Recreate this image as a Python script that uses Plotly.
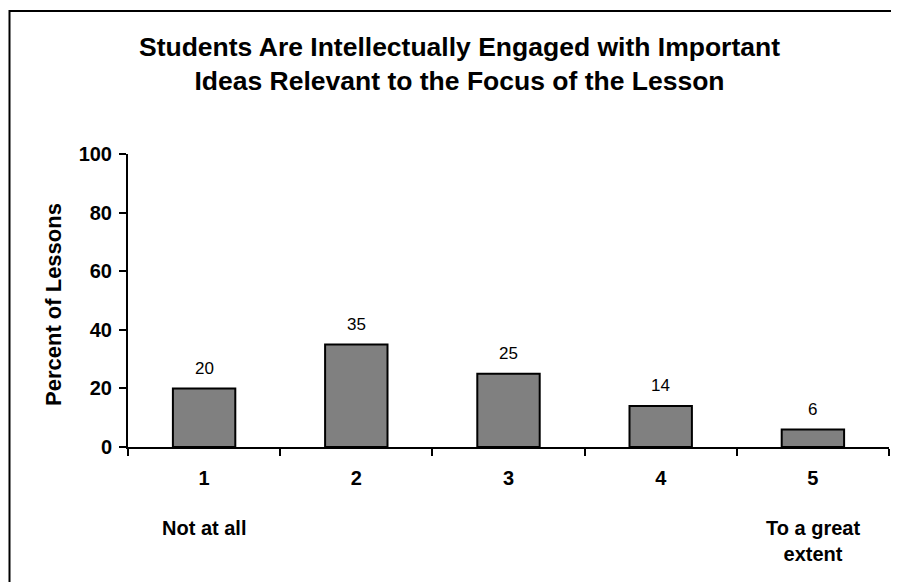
import plotly.graph_objects as go

categories = ["1", "2", "3", "4", "5"]
values = [20, 35, 25, 14, 6]
title_lines = ["Students Are Intellectually Engaged with Important",
               "Ideas Relevant to the Focus of the Lesson"]
y_title = "Percent of Lessons"
y_ticks = [0, 20, 40, 60, 80, 100]
end_labels = {0: "Not at all", 4: "To a great<br>extent"}

FONT = "Liberation Sans, Arial, sans-serif"
OFF = 8  # page offset of the figure inside the browser window
W, H = 899 - OFF, 582 - OFF
L, R, T, B = 128 - OFF, 10, 154 - OFF, 135
pw, ph = W - L - R, H - T - B

def px_x(p):
    return (p - OFF - L) / pw

def px_y(p):
    return (H - B - (p - OFF)) / ph

fig = go.Figure()
fig.add_trace(go.Bar(
    x=categories, y=values, width=0.41,
    marker=dict(color="#808080", line=dict(color="black", width=2)),
    hoverinfo="skip",
))

bold = dict(family=FONT, size=20, color="black", weight="bold")
annotations = []
for i, v in enumerate(values):
    annotations.append(dict(x=i, y=v, xref="x", yref="y", text=str(v), showarrow=False,
                            yanchor="middle", yshift=20,
                            font=dict(family=FONT, size=17, color="black")))
for i, t in end_labels.items():
    annotations.append(dict(x=i, y=px_y(540.5) if "<br>" in t else px_y(528), xref="x", yref="paper",
                            text=t, showarrow=False, yanchor="middle", font=bold))
annotations.append(dict(x=px_x(459.5), y=px_y(64), xref="paper", yref="paper",
                        text="<br>".join(title_lines), showarrow=False,
                        xanchor="center", yanchor="middle",
                        font=dict(family=FONT, size=26.5, color="black", weight="bold")))
annotations.append(dict(x=px_x(53), y=px_y(305), xref="paper", yref="paper",
                        text=y_title, showarrow=False, textangle=-90,
                        xanchor="center", yanchor="middle",
                        font=dict(family=FONT, size=22, color="black", weight="bold")))

fig.update_layout(
    width=W, height=H,
    margin=dict(l=L, r=R, t=T, b=B, pad=0, autoexpand=False),
    paper_bgcolor="white", plot_bgcolor="white",
    showlegend=False,
    annotations=annotations,
    shapes=[dict(type="rect", xref="paper", yref="paper",
                 x0=px_x(9.5), x1=px_x(920), y0=px_y(620), y1=px_y(11),
                 line=dict(color="black", width=2), fillcolor="rgba(0,0,0,0)", layer="above")],
    xaxis=dict(type="category", range=[-0.5, 4.5], tickson="boundaries", showline=True,
               linecolor="black", linewidth=2, ticks="outside", ticklen=7, tickwidth=2,
               tickcolor="black", showgrid=False, zeroline=False, automargin=False,
               tickfont=bold, ticklabelstandoff=12),
    yaxis=dict(range=[0, 100], tickvals=y_ticks, showline=True, linecolor="black",
               linewidth=2, ticks="outside", ticklen=7, tickwidth=2, tickcolor="black",
               showgrid=False, zeroline=False, automargin=False, tickfont=bold,
               ticklabelstandoff=3),
)
fig.write_html("out.html")
